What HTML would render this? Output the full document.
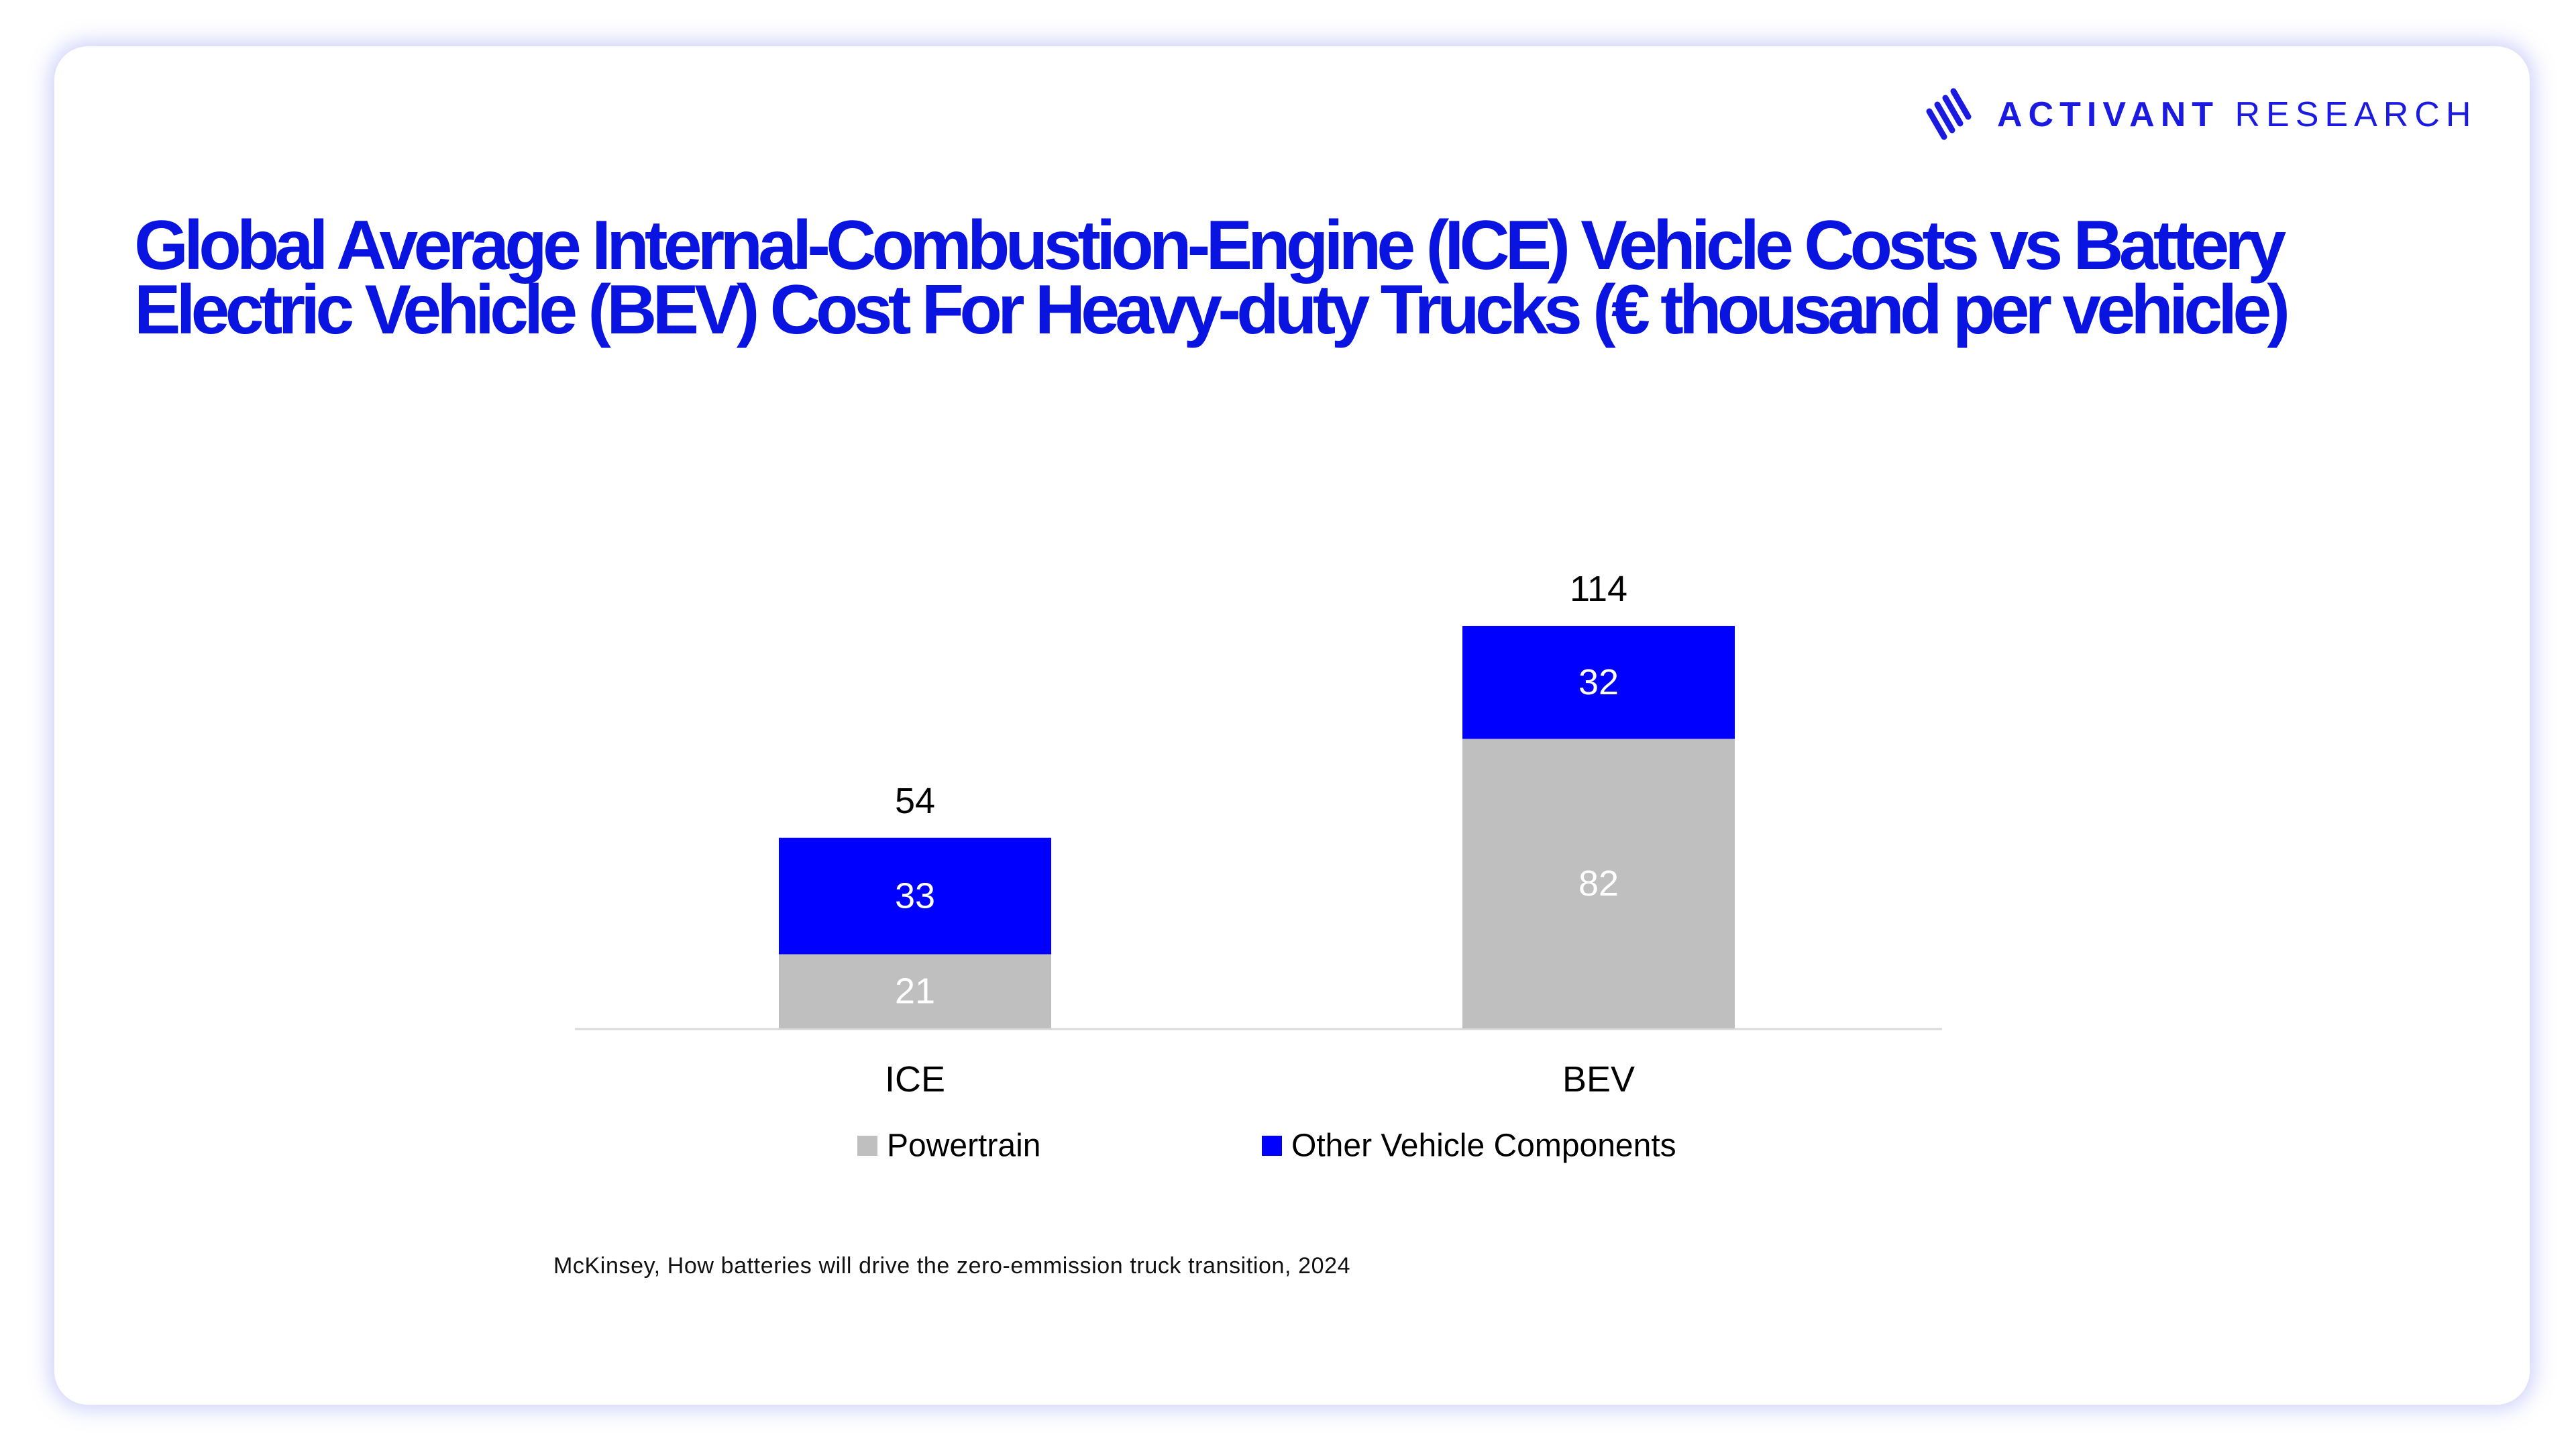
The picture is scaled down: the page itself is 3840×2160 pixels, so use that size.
<!DOCTYPE html>
<html><head><meta charset="utf-8">
<style>
html,body{margin:0;padding:0;}
body{width:3840px;height:2160px;background:#fff;position:relative;overflow:hidden;font-family:"Liberation Sans",sans-serif;}
#card{position:absolute;left:81px;top:69px;width:3690px;height:2025px;border-radius:50px;background:#fff;box-shadow:0 0 30px 8px rgba(120,130,240,0.35);}
#title{position:absolute;left:200px;top:318px;font-weight:bold;font-size:104px;line-height:96px;color:#0a14e0;letter-spacing:-6.8px;white-space:nowrap;}
#logo-text{position:absolute;left:2977px;top:141px;font-size:52px;color:#1a1ae0;letter-spacing:9px;white-space:nowrap;}
</style></head><body>
<div id="card"></div>
<svg style="position:absolute;left:2870px;top:130px" width="100" height="90">
<g stroke="#1a1ae0" stroke-width="9" stroke-linecap="round">
<line x1="42" y1="6" x2="64" y2="44"/><line x1="30" y1="16" x2="52" y2="54"/><line x1="18" y1="26" x2="40" y2="64"/><line x1="6" y1="36" x2="28" y2="74"/></g></svg>
<div id="logo-text"><b>ACTIVANT</b> RESEARCH</div>
<div id="title">Global Average Internal-Combustion-Engine (ICE) Vehicle Costs vs Battery<br>Electric Vehicle (BEV) Cost For Heavy-duty Trucks (€ thousand per vehicle)</div>
<svg id="chart" style="position:absolute;left:0;top:0" width="3840" height="2160"></svg>
<div style="position:absolute;left:825px;top:1868px;font-size:34px;color:#111;letter-spacing:0.6px">McKinsey, How batteries will drive the zero-emmission truck transition, 2024</div>
<script>
const categories=["ICE","BEV"];
const powertrain=[21,82];
const other=[33,32];
const totals=[54,114];
const NS="http://www.w3.org/2000/svg";
const svg=document.getElementById('chart');
const baseY=1533, pxPerUnit=600/114;
const y=v=>baseY-v*pxPerUnit;
const xCenter=i=>1364+i*1019;
const barW=406;
function mk(tag,attrs){const e=document.createElementNS(NS,tag);for(const k in attrs)e.setAttribute(k,attrs[k]);svg.appendChild(e);return e;}
const ax=mk('line',{x1:857,x2:2895,y1:baseY+1,y2:baseY+1,stroke:'#d9d9d9','stroke-width':3});


function txt(x,yy,s,size,fill){const t=mk('text',{x:x,y:yy,'font-size':size,fill:fill,'text-anchor':'middle','dominant-baseline':'central','font-family':'Liberation Sans, sans-serif'});t.textContent=s;return t;}
categories.forEach((c,i)=>{
  const cx=xCenter(i);
  const r1=mk('rect',{x:cx-barW/2,y:y(powertrain[i]),width:barW,height:powertrain[i]*pxPerUnit,fill:'#bfbfbf'});
  
  
  const r2=mk('rect',{x:cx-barW/2,y:y(powertrain[i]+other[i]),width:barW,height:other[i]*pxPerUnit,fill:'#0000ff'});
  
  
  const l1=txt(cx,y(powertrain[i]/2),String(powertrain[i]),54,'#fff');
  
  
  const l2=txt(cx,y(powertrain[i]+other[i]/2),String(other[i]),54,'#fff');
  
  
  const l3=txt(cx,y(totals[i])-55,String(totals[i]),54,'#000');
  
  
  const l4=txt(cx,1609,c,54,'#000');
  
  
});
const lg1=mk('rect',{x:1278,y:1693,width:30,height:30,fill:'#bfbfbf'});


const lt1=mk('text',{x:1322,y:1708,'font-size':48,'dominant-baseline':'central','font-family':'Liberation Sans, sans-serif'});lt1.textContent='Powertrain';


const lg2=mk('rect',{x:1881,y:1693,width:30,height:30,fill:'#0000ff'});


const lt2=mk('text',{x:1925,y:1708,'font-size':48,'dominant-baseline':'central','font-family':'Liberation Sans, sans-serif'});lt2.textContent='Other Vehicle Components';


</script>
</body></html>
